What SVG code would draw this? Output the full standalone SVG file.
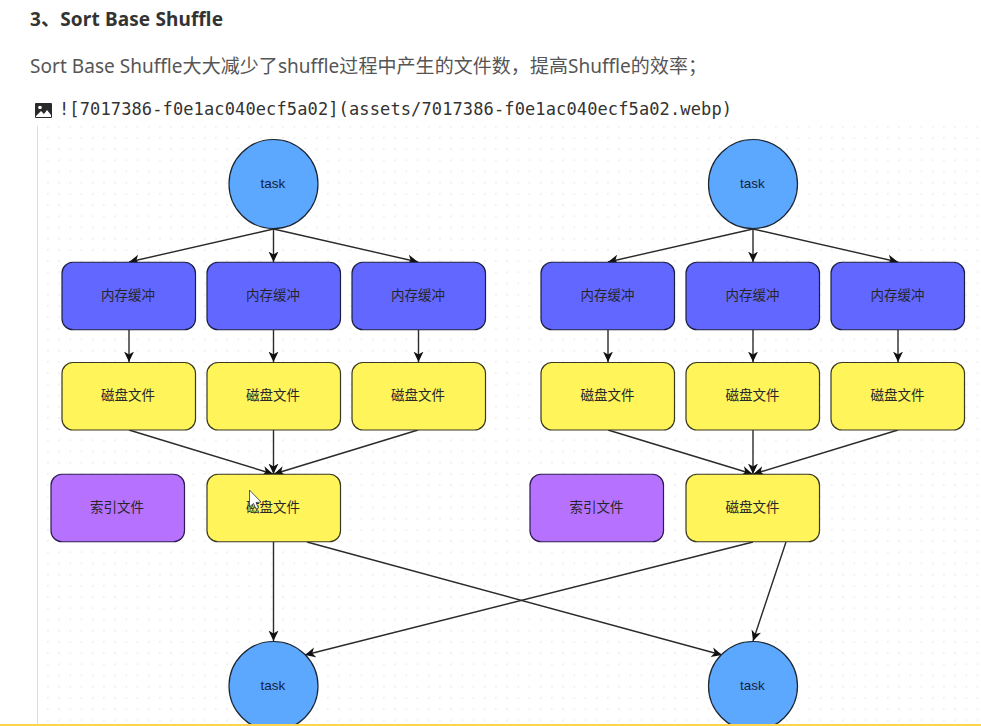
<svg xmlns="http://www.w3.org/2000/svg" width="981" height="726" viewBox="0 0 981 726">
<style>
.task{fill:#5CA8FF;stroke:#1c2530;stroke-width:1.2}
.mem{fill:#6268FF;stroke:#1c2040;stroke-width:1.2}
.disk{fill:#FFF45A;stroke:#3a3a20;stroke-width:1.2}
.idx{fill:#B672FF;stroke:#2c1c50;stroke-width:1.2}
.lb{font-family:"Liberation Sans","Noto Sans CJK SC",sans-serif;font-size:13.5px;text-anchor:middle;fill:#14233c}
.cn{font-family:"Liberation Sans","Noto Sans CJK SC",sans-serif;font-size:13.5px;text-anchor:middle;fill:#26262a}
#connectors line{stroke:#2a2a2a;stroke-width:1.4;fill:none;marker-end:url(#a)}
</style>
<defs>
<marker id="a" viewBox="0 0 11 11" refX="10.500" refY="5.500" markerWidth="11" markerHeight="11" markerUnits="userSpaceOnUse" orient="auto"><path d="M0 0.5L10.500 5.500L0 10.500L3 5.500Z" fill="#111"/></marker>
<pattern id="dots" width="11.2" height="11.2" patternUnits="userSpaceOnUse" x="-2.500" y="-2.100"><circle cx="5.600" cy="5.600" r="0.9" fill="#ebebeb"/></pattern>
<rect id="r" width="133.500" height="67.500" rx="11"/>
</defs>
<rect width="981" height="726" fill="#fff"/>
<text x="30" y="25.500" font-family="'Noto Sans','Noto Sans CJK SC',sans-serif" font-size="19" font-weight="700" fill="#333" textLength="193">3、Sort Base Shuffle</text>
<text x="30" y="73" font-family="'Noto Sans','Noto Sans CJK SC',sans-serif" font-size="19" fill="#555" textLength="677">Sort Base Shuffle大大减少了shuffle过程中产生的文件数，提高Shuffle的效率；</text>
<g id="icon"><rect x="35" y="103" width="17" height="15" rx="1" fill="#2a2a2a"/><circle cx="40" cy="107.500" r="1.800" fill="#fff"/><path d="M36 116L41 111L44 114L47 110L51 115V117H36Z" fill="#fff"/></g>
<text x="59" y="115" font-family="'DejaVu Sans Mono','Liberation Mono',monospace" font-size="17" fill="#333" textLength="673">![7017386-f0e1ac040ecf5a02](assets/7017386-f0e1ac040ecf5a02.webp)</text>
<rect x="38" y="126" width="943" height="598" fill="url(#dots)"/>
<line x1="37.500" y1="126" x2="37.500" y2="724" stroke="#ddd" stroke-width="1"/>
<g id="connectors">
<line x1="273.500" y1="229" x2="129" y2="262"/><line x1="273.500" y1="229" x2="273.500" y2="262"/><line x1="273.500" y1="229" x2="418" y2="262"/>
<line x1="129" y1="330" x2="129" y2="362"/><line x1="273.500" y1="330" x2="273.500" y2="362"/><line x1="418.500" y1="330" x2="418.500" y2="362"/>
<line x1="129" y1="430" x2="273" y2="474"/><line x1="273.500" y1="430" x2="273.500" y2="474"/><line x1="418" y1="430" x2="274" y2="474"/>
<line x1="273.500" y1="542" x2="273.500" y2="641"/><line x1="307" y1="542" x2="722" y2="655"/>
<line x1="753" y1="229" x2="608" y2="262"/><line x1="753" y1="229" x2="753" y2="262"/><line x1="753" y1="229" x2="898" y2="262"/>
<line x1="608" y1="330" x2="608" y2="362"/><line x1="753" y1="330" x2="753" y2="362"/><line x1="898" y1="330" x2="898" y2="362"/>
<line x1="608" y1="430" x2="752.500" y2="474"/><line x1="753" y1="430" x2="753" y2="474"/><line x1="898" y1="430" x2="753.500" y2="474"/>
<line x1="753" y1="542" x2="305" y2="655"/><line x1="786" y1="542" x2="753" y2="641"/>
</g>
<g id="task1"><circle class="task" cx="273.500" cy="184" r="44.500"/><text class="lb" x="273" y="188">task</text></g>
<g id="task2"><circle class="task" cx="753" cy="184" r="44.500"/><text class="lb" x="752.500" y="188">task</text></g>
<g id="mem1"><use href="#r" class="mem" x="62" y="262.250"/><text class="cn" x="128" y="299.500">内存缓冲</text></g>
<g id="mem2"><use href="#r" class="mem" x="207" y="262.250"/><text class="cn" x="273" y="299.500">内存缓冲</text></g>
<g id="mem3"><use href="#r" class="mem" x="352" y="262.250"/><text class="cn" x="418" y="299.500">内存缓冲</text></g>
<g id="mem4"><use href="#r" class="mem" x="541" y="262.250"/><text class="cn" x="607.500" y="299.500">内存缓冲</text></g>
<g id="mem5"><use href="#r" class="mem" x="686" y="262.250"/><text class="cn" x="752.500" y="299.500">内存缓冲</text></g>
<g id="mem6"><use href="#r" class="mem" x="831" y="262.250"/><text class="cn" x="897.500" y="299.500">内存缓冲</text></g>
<g id="disk1"><use href="#r" class="disk" x="62" y="362.500"/><text class="cn" x="128" y="399.500">磁盘文件</text></g>
<g id="disk2"><use href="#r" class="disk" x="207" y="362.500"/><text class="cn" x="273" y="399.500">磁盘文件</text></g>
<g id="disk3"><use href="#r" class="disk" x="352" y="362.500"/><text class="cn" x="418" y="399.500">磁盘文件</text></g>
<g id="disk4"><use href="#r" class="disk" x="541" y="362.500"/><text class="cn" x="607.500" y="399.500">磁盘文件</text></g>
<g id="disk5"><use href="#r" class="disk" x="686" y="362.500"/><text class="cn" x="752.500" y="399.500">磁盘文件</text></g>
<g id="disk6"><use href="#r" class="disk" x="831" y="362.500"/><text class="cn" x="897.500" y="399.500">磁盘文件</text></g>
<g id="index1"><use href="#r" class="idx" x="51" y="474.250"/><text class="cn" x="117" y="511.500">索引文件</text></g>
<g id="merged1"><use href="#r" class="disk" x="207" y="474.250"/><text class="cn" x="273" y="511.500">磁盘文件</text></g>
<g id="index2"><use href="#r" class="idx" x="530" y="474.250"/><text class="cn" x="596.500" y="511.500">索引文件</text></g>
<g id="merged2"><use href="#r" class="disk" x="686" y="474.250"/><text class="cn" x="752.500" y="511.500">磁盘文件</text></g>
<g id="task3"><circle class="task" cx="273.500" cy="686" r="44.500"/><text class="lb" x="273" y="690">task</text></g>
<g id="task4"><circle class="task" cx="753" cy="686" r="44.500"/><text class="lb" x="752.500" y="690">task</text></g>
<path id="cursor" d="M249.500 490V507L253.500 503.500L256 509L258.500 508L256 502.500L261 502Z" fill="#fff" stroke="#333" stroke-width="0.8"/>
<rect x="0" y="724" width="981" height="2" fill="#FFD54F"/>
</svg>
